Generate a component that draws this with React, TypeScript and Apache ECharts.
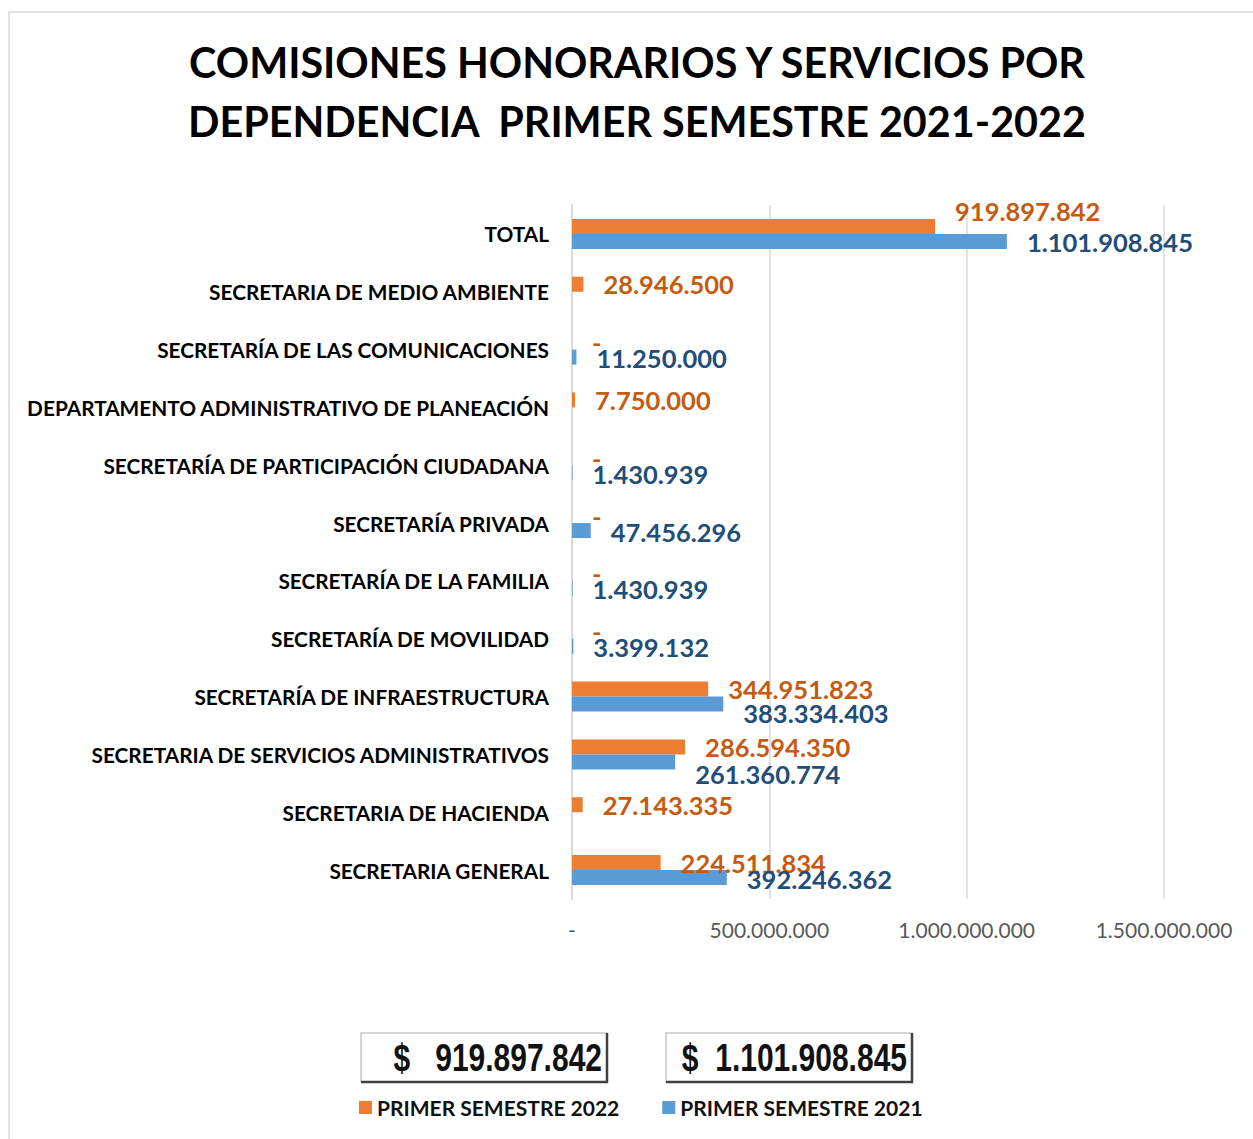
import React, { useEffect, useRef } from "react";
import * as echarts from "echarts";

const categories = [
  "TOTAL",
  "SECRETARIA DE MEDIO AMBIENTE",
  "SECRETARÍA DE LAS COMUNICACIONES",
  "DEPARTAMENTO ADMINISTRATIVO DE PLANEACIÓN",
  "SECRETARÍA DE PARTICIPACIÓN CIUDADANA",
  "SECRETARÍA PRIVADA",
  "SECRETARÍA DE LA FAMILIA",
  "SECRETARÍA DE MOVILIDAD",
  "SECRETARÍA DE INFRAESTRUCTURA",
  "SECRETARIA DE SERVICIOS ADMINISTRATIVOS",
  "SECRETARIA DE HACIENDA",
  "SECRETARIA GENERAL",
];

const semestre2022: (number | null)[] = [
  919897842, 28946500, 0, 7750000, 0, 0, 0, 0, 344951823, 286594350, 27143335, 224511834,
];
const semestre2021: (number | null)[] = [
  1101908845, null, 11250000, null, 1430939, 47456296, 1430939, 3399132, 383334403, 261360774, null, 392246362,
];

const seriesNames = ["PRIMER SEMESTRE 2022", "PRIMER SEMESTRE 2021"];
const xTicks = [0, 500000000, 1000000000, 1500000000];
const totals = ["$   919.897.842", "$  1.101.908.845"];

// label nudges (style only)
const offsets2022: number[][] = categories.map((_, i) => (i === 0 ? [0, -15] : [0, 0]));
const offsets2021: number[][] = categories.map((_, i) =>
  i === 8 ? [0, 9] : i === 9 ? [0, 12] : [0, 1]
);

const fmt = (v: number) => {
  if (!v) return "-";
  return Math.round(v).toString().replace(/\B(?=(\d{3})+(?!\d))/g, ".");
};

export default function App() {
  const ref = useRef<HTMLDivElement>(null);
  useEffect(() => {
    if (!ref.current) return;
    const chart = echarts.init(ref.current, undefined, { renderer: "svg" });
    const font = "Lato, 'Open Sans', sans-serif";
    const mk = (vals: (number | null)[], offs: number[][]) =>
      vals.map((v, i) => ({ value: v, label: { offset: offs[i] } }));

    const boxes: any[] = [];
    const boxX = [361, 666];
    totals.forEach((t, i) => {
      const x = boxX[i];
      boxes.push({
        type: "rect",
        shape: { x, y: 1033, width: 246, height: 49 },
        style: { fill: "#fff", stroke: "#c8c8c8", lineWidth: 1.5 },
        z: 10,
      });
      boxes.push({
        type: "polyline",
        shape: { points: [[x + 246, 1033], [x + 246, 1082], [x, 1082]] },
        style: { stroke: "#404040", lineWidth: 2.5, fill: null },
        z: 11,
      });
      boxes.push({
        type: "text",
        x: x + 241,
        y: 1058,
        scaleY: 1.3,
        style: {
          text: t,
          font: "bold 30px 'Liberation Sans', Arial, sans-serif",
          fill: "#111",
          align: "right",
          verticalAlign: "middle",
        },
        z: 12,
      });
    });

    const labelStyle = (color: string) => ({
      show: true,
      position: "right",
      distance: 20,
      formatter: (p: any) => fmt(p.value),
      color,
      fontFamily: font,
      fontWeight: "bold",
      fontSize: 25.5,
    });

    chart.setOption({
      animation: false,
      backgroundColor: "#fff",
      grid: { left: 572, right: 89, top: 205, bottom: 240, containLabel: false },
      legend: {
        left: 354,
        top: 1092,
        icon: "rect",
        itemWidth: 13,
        itemHeight: 13,
        itemGap: 43,
        textStyle: { fontFamily: font, fontWeight: "bold", fontSize: 21, color: "#111" },
        data: seriesNames,
      },
      xAxis: {
        type: "value",
        min: 0,
        max: 1500000000,
        interval: 500000000,
        axisLine: { show: false },
        axisTick: { show: false },
        splitLine: { show: true, lineStyle: { color: "#d9d9d9", width: 1.5 } },
        axisLabel: {
          formatter: (v: number) => (xTicks.includes(v) ? fmt(v) : ""),
          color: "#595959",
          fontFamily: font,
          fontSize: 21,
          margin: 20,
        },
      },
      yAxis: {
        type: "category",
        inverse: true,
        data: categories,
        axisLine: { show: true, lineStyle: { color: "#d9d9d9", width: 2 } },
        axisTick: { show: false },
        axisLabel: {
          color: "#000",
          fontFamily: font,
          fontWeight: "bold",
          fontSize: 20.8,
          margin: 23,
        },
      },
      series: [
        {
          name: seriesNames[0],
          type: "bar",
          data: mk(semestre2022, offsets2022),
          barWidth: 15,
          barGap: "0%",
          itemStyle: { color: "#ED7D31" },
          label: labelStyle("#C55A11"),
        },
        {
          name: seriesNames[1],
          type: "bar",
          data: mk(semestre2021, offsets2021),
          barWidth: 15,
          barGap: "0%",
          itemStyle: { color: "#5B9BD5" },
          label: labelStyle("#1F4E79"),
        },
      ],
      graphic: [
        {
          type: "rect",
          shape: { x: 9, y: 12, width: 1400, height: 1300 },
          style: { fill: "none", stroke: "#d9d9d9", lineWidth: 1.5 },
          silent: true,
          z: -1,
        },
        {
          type: "text",
          x: 637,
          y: 32,
          style: {
            text: "COMISIONES HONORARIOS Y SERVICIOS POR\nDEPENDENCIA  PRIMER SEMESTRE 2021-2022",
            font: "bold 41.3px " + font,
            fill: "#000",
            align: "center",
            lineHeight: 59,
          },
        },
        ...boxes,
      ],
    });
    return () => chart.dispose();
  }, []);
  return (
    <div
      ref={ref}
      style={{ position: "fixed", left: 0, top: 0, width: 1253, height: 1139 }}
    />
  );
}
